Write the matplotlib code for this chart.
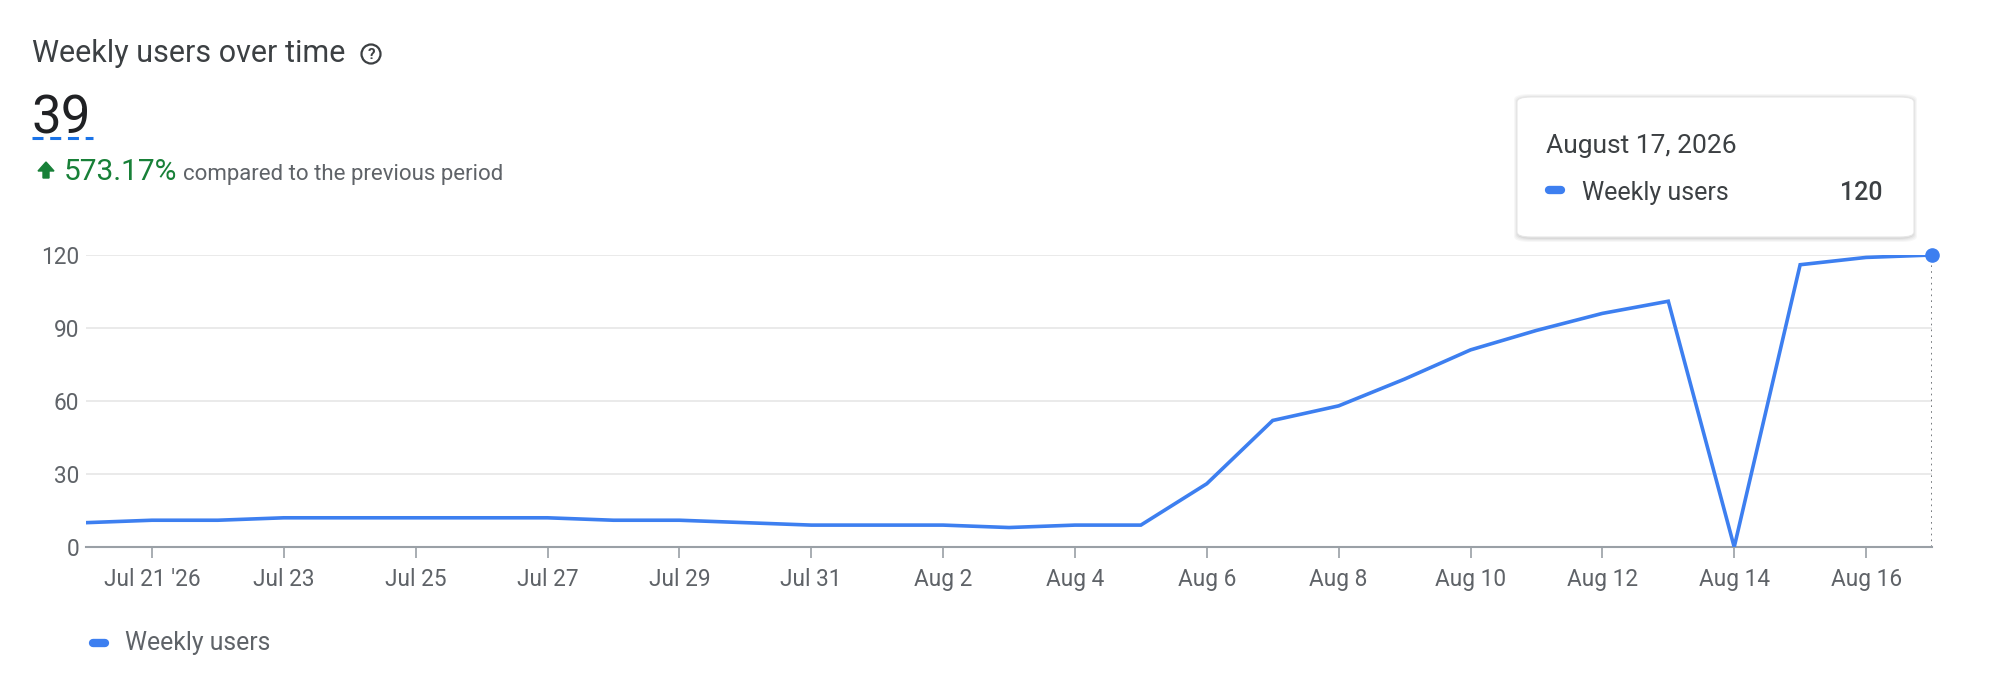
import matplotlib
matplotlib.use("Agg")
import matplotlib.pyplot as plt
import matplotlib.patches as mpatches
import pandas as pd

# data
days = ["2026-07-20", "2026-07-21", "2026-07-22", "2026-07-23", "2026-07-24",
        "2026-07-25", "2026-07-26", "2026-07-27", "2026-07-28", "2026-07-29",
        "2026-07-30", "2026-07-31", "2026-08-01", "2026-08-02", "2026-08-03",
        "2026-08-04", "2026-08-05", "2026-08-06", "2026-08-07", "2026-08-08",
        "2026-08-09", "2026-08-10", "2026-08-11", "2026-08-12", "2026-08-13",
        "2026-08-14", "2026-08-15", "2026-08-16", "2026-08-17"]
weekly_users = [10, 11, 11, 12, 12, 12, 12, 12, 11, 11,
                10, 9, 9, 9, 8, 9, 9, 26, 52, 58,
                69, 81, 89, 96, 101, 0, 116, 119, 120]
tick_days = ["2026-07-21", "2026-07-23", "2026-07-25", "2026-07-27", "2026-07-29",
             "2026-07-31", "2026-08-02", "2026-08-04", "2026-08-06", "2026-08-08",
             "2026-08-10", "2026-08-12", "2026-08-14", "2026-08-16"]
tick_labels = ["Jul 21 '26", "Jul 23", "Jul 25", "Jul 27", "Jul 29", "Jul 31",
               "Aug 2", "Aug 4", "Aug 6", "Aug 8", "Aug 10", "Aug 12", "Aug 14", "Aug 16"]
y_ticks = [0, 30, 60, 90, 120]

BLUE = "#3d7ff0"
GREEN = "#188038"
GRAY = "#5f6368"
DARK = "#3c4043"

plt.rcParams['font.family'] = ['Roboto', 'DejaVu Sans']

W, H = 2000, 693
fig = plt.figure(figsize=(W / 100, H / 100), dpi=100, facecolor="white")


def px(x, y):
    # pixel from top-left -> figure fraction
    return x / W, 1 - y / H


x = pd.to_datetime(days)
ax = fig.add_axes([86 / W, (H - 547) / H, (1932 - 86) / W, (547 - 255) / H])
ax.plot(x, weekly_users, color=BLUE, lw=2.6, solid_joinstyle="miter", zorder=3)
ax.plot(x[-1:], weekly_users[-1:], "o", color=BLUE, ms=9.5, clip_on=False, zorder=4)
ax.vlines(x[-1], 0, weekly_users[-1], colors="#5f6368", linestyles=(0, (1, 2.5)), lw=1.2, zorder=2)

ax.set_xlim(x[0], x[-1])
ax.set_ylim(0, 120)
ax.set_yticks(y_ticks)
ax.set_yticklabels([str(v) for v in y_ticks])
ax.set_xticks(pd.to_datetime(tick_days))
ax.set_xticklabels(tick_labels)
ax.grid(axis="y", color="#e8e8e8", lw=1.3)
ax.set_axisbelow(True)
for s in ["top", "right", "left"]:
    ax.spines[s].set_visible(False)
ax.spines["bottom"].set_color("#9aa0a6")
ax.spines["bottom"].set_linewidth(1.5)
ax.spines["bottom"].set_zorder(2.5)
ax.tick_params(axis="y", length=0, pad=5, labelsize=16.3, labelcolor=GRAY)
ax.tick_params(axis="x", length=8, width=1.2, color="#9aa0a6", pad=7, labelsize=16.3, labelcolor=GRAY)

# header
fig.text(*px(32, 62), "Weekly users over time", fontsize=22, color=DARK, va="baseline")
fig.patches.append(mpatches.Ellipse(px(371, 54), 19 / W, 19 / H, transform=fig.transFigure,
                                    fill=False, ec=DARK, lw=1.6))
fig.text(*px(371, 55), "?", fontsize=11, color=DARK, ha="center", va="center", fontweight="bold")
fig.text(*px(31, 133), "39", fontsize=38, color="#202124", va="baseline")
fig.add_artist(plt.Line2D([32 / W, 93 / W], [1 - 138 / H] * 2, transform=fig.transFigure,
                          color="#1a73e8", lw=2.2, linestyle=(0, (3.6, 2.2))))
arrow = [(46, 162), (54, 171), (49, 171), (49, 178), (43, 178), (43, 171), (38, 171)]
fig.patches.append(mpatches.Polygon([px(a, b) for a, b in arrow], closed=True,
                                    transform=fig.transFigure, color=GREEN))
fig.text(*px(64, 180), "573.17%", fontsize=21.5, color=GREEN, va="baseline")
fig.text(*px(183, 180), "compared to the previous period", fontsize=16, color=GRAY, va="baseline")

# tooltip with a soft shadow
bx0, by0, bx1, by1 = 1517, 97, 1914, 237
for i, a in enumerate([0.03, 0.03, 0.04, 0.05]):
    g = 4 - i
    fig.patches.append(mpatches.FancyBboxPatch(
        px(bx0 - g + 1, by1 + g + 1), (bx1 - bx0 + 2 * g - 2) / W, (by1 - by0 + 2 * g) / H,
        boxstyle="round,pad=0,rounding_size=0.008", transform=fig.transFigure,
        fc="black", ec="none", alpha=a))
fig.patches.append(mpatches.FancyBboxPatch(
    px(bx0, by1), (bx1 - bx0) / W, (by1 - by0) / H,
    boxstyle="round,pad=0,rounding_size=0.007", transform=fig.transFigure,
    fc="white", ec="#e6e6e6", lw=0.8))
fig.text(*px(1546, 153), "August 17, 2026", fontsize=19, color=DARK, va="baseline")
fig.add_artist(plt.Line2D([1549 / W, 1561 / W], [1 - 190 / H] * 2, transform=fig.transFigure,
                          color=BLUE, lw=6, solid_capstyle="round"))
fig.text(*px(1582, 200), "Weekly users", fontsize=18, color=DARK, va="baseline")
fig.text(*px(1883, 200), str(weekly_users[-1]), fontsize=18, color=DARK, va="baseline",
         ha="right", fontweight="medium")

# legend
fig.add_artist(plt.Line2D([93 / W, 105 / W], [1 - 643 / H] * 2, transform=fig.transFigure,
                          color=BLUE, lw=6, solid_capstyle="round"))
fig.text(*px(125, 643), "Weekly users", fontsize=17.8, color=GRAY, va="center")

fig.savefig("out.png", dpi=100, facecolor="white")
